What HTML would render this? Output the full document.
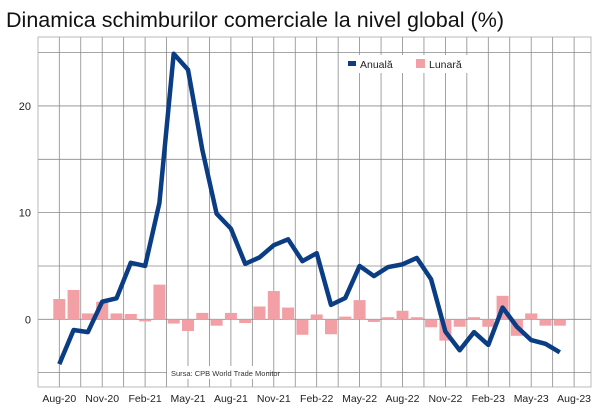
<!DOCTYPE html>
<html><head><meta charset="utf-8"><style>
body{margin:0;background:#fff;font-family:"Liberation Sans",sans-serif}
</style></head><body>
<svg id="c" width="600" height="412" viewBox="0 0 600 412" xmlns="http://www.w3.org/2000/svg">
<text x="6" y="27" font-size="21.5" textLength="498" fill="#111">Dinamica schimburilor comerciale la nivel global (%)</text>
<g id="grid"></g><g id="bars"></g><g id="line"></g><g id="axes"></g>
</svg>
<script>
const months=["Aug-20","Sep-20","Oct-20","Nov-20","Dec-20","Jan-21","Feb-21","Mar-21","Apr-21","May-21","Jun-21","Jul-21","Aug-21","Sep-21","Oct-21","Nov-21","Dec-21","Jan-22","Feb-22","Mar-22","Apr-22","May-22","Jun-22","Jul-22","Aug-22","Sep-22","Oct-22","Nov-22","Dec-22","Jan-23","Feb-23","Mar-23","Apr-23","May-23","Jun-23","Jul-23"];
const annual=[-4.2,-1.0,-1.2,1.65,1.97,5.3,5.0,10.9,24.9,23.4,15.9,9.9,8.5,5.2,5.8,6.95,7.5,5.45,6.2,1.35,2.0,5.0,4.05,4.9,5.15,5.75,3.75,-1.15,-2.9,-1.2,-2.4,1.1,-0.7,-1.95,-2.3,-3.1];
const monthly=[1.9,2.75,0.55,1.65,0.55,0.5,-0.2,3.25,-0.4,-1.1,0.6,-0.6,0.6,-0.35,1.2,2.65,1.1,-1.45,0.45,-1.4,0.25,1.8,-0.25,0.2,0.8,0.2,-0.75,-2.0,-0.7,0.2,-0.7,2.2,-1.55,0.55,-0.6,-0.6];
const xTickLabels=["Aug-20","Nov-20","Feb-21","May-21","Aug-21","Nov-21","Feb-22","May-22","Aug-22","Nov-22","Feb-23","May-23","Aug-23"];
const yTicks=[0,10,20];
const NS="http://www.w3.org/2000/svg";
const L=38,R=591,T=37,B=387;
const x=i=>59.3+i*14.3;
const y=v=>319.3-v*10.667;
function mk(tag,at,parent){const e=document.createElementNS(NS,tag);for(const k in at)e.setAttribute(k,at[k]);document.getElementById(parent).appendChild(e);return e;}
for(let k=-2;k<=24;k++){const gx=x(k*1.5);if(gx<L||gx>R)continue;
const g=mk('line',{x1:gx,x2:gx,y1:T,y2:B,stroke:'#8a8a8a','stroke-width':0.8},'grid');

}
for(let v=-10;v<=30;v+=5){const gy=y(v);if(gy<T||gy>B)continue;
const g=mk('line',{x1:L,x2:R,y1:gy,y2:gy,stroke:'#8a8a8a','stroke-width':0.8},'grid');

}
const fr=mk('rect',{x:L,y:T,width:R-L,height:B-T,fill:'none',stroke:'#aaa','stroke-width':0.8},'grid');


monthly.forEach((v,i)=>{const b=mk('rect',{x:x(i)-6,y:Math.min(y(v),y(0)),width:12,height:Math.abs(y(v)-y(0)),fill:'#f2a0a5'},'bars');

});
const p=mk('polyline',{points:annual.map((v,i)=>x(i)+','+y(v)).join(' '),fill:'none',stroke:'#0b3d85','stroke-width':4.5,'stroke-linejoin':'round'},'line');


xTickLabels.forEach((t,k)=>{const e=mk('text',{x:x(k*3),y:402,'font-size':10.5,'text-anchor':'middle',fill:'#222'},'axes');e.textContent=t;

});
yTicks.forEach(v=>{const e=mk('text',{x:31,y:y(v)+4,'font-size':11,'text-anchor':'end',fill:'#222'},'axes');e.textContent=v;

});
const lg=mk('rect',{x:340,y:55,width:130,height:18,fill:'#fff'},'axes');


const s1=mk('rect',{x:348,y:61,width:8,height:5,fill:'#0b3d85'},'axes');


const t1=mk('text',{x:360,y:68,'font-size':10.5,fill:'#222'},'axes');t1.textContent='Anuală';


const s2=mk('rect',{x:416,y:59,width:9,height:9,fill:'#f2a0a5'},'axes');


const t2=mk('text',{x:429,y:68,'font-size':10.5,fill:'#222'},'axes');t2.textContent='Lunară';


const sb=mk('rect',{x:167,y:366,width:100,height:13,fill:'#fff'},'axes');


const st=mk('text',{x:171,y:376,'font-size':7.5,fill:'#333'},'axes');st.textContent='Sursa: CPB World Trade Monitor';


</script>
</body></html>
